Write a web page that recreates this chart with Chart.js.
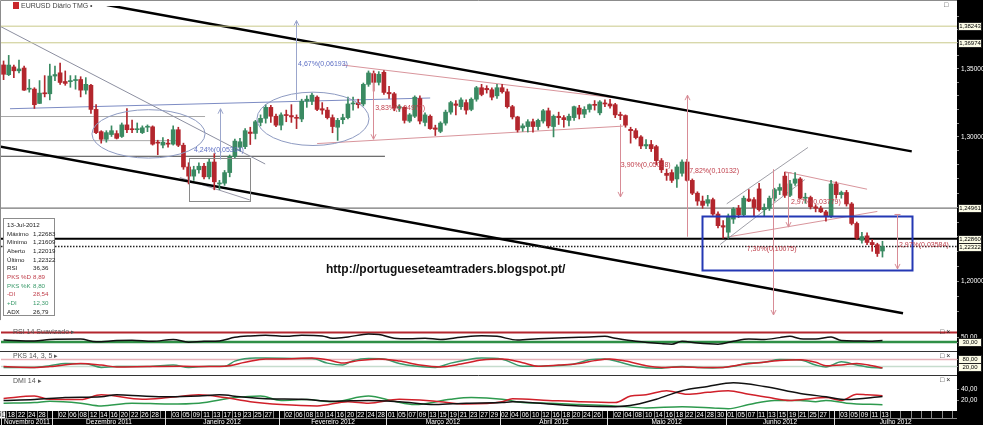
<!DOCTYPE html>
<html>
<head>
<meta charset="utf-8">
<title>EURUSD Diário TMG</title>
<script src="https://cdn.jsdelivr.net/npm/chart.js@4.4.1/dist/chart.umd.min.js"></script>
<style>
  html, body { margin: 0; padding: 0; }
  body { position: relative; width: 983px; height: 425px; overflow: hidden; background: #fff; font-family: "Liberation Sans", Arial, sans-serif; }
  canvas { position: absolute; left: 0; }
  .t { position: absolute; white-space: nowrap; font-size: 7px; line-height: 8px; color: #555; }
  #info { position: absolute; left: 3px; top: 218px; width: 52px; height: 98px; box-sizing: border-box; border: 1px solid #8c8c8c; background: #fff; }
  #info .t { font-size: 6.2px; }
  #url { position: absolute; left: 326px; top: 262px; font-size: 12px; font-weight: bold; color: #111; white-space: nowrap; }
</style>
</head>
<body>
<canvas id="priceChart" width="983" height="326" style="top:0px"></canvas>
<canvas id="rsiChart" width="983" height="26" style="top:325px"></canvas>
<canvas id="pksChart" width="983" height="24" style="top:351px"></canvas>
<canvas id="dmiChart" width="983" height="50" style="top:375px"></canvas>

<div style="position:absolute;left:13px;top:2px;width:6px;height:7px;background:#c8262b"></div>
<div class="t" style="left:21px;top:2px;color:#444">EURUSD Diário TMG •</div>
<div class="t" style="left:944px;top:1px;color:#333">□</div>
<div class="t" style="left:13px;top:328px">RSI 14 Suavizado ▸</div>
<div class="t" style="left:940px;top:328px;color:#222">□ ×</div>
<div class="t" style="left:13px;top:352px">PKS 14, 3, 5 ▸</div>
<div class="t" style="left:940px;top:352px;color:#222">□ ×</div>
<div class="t" style="left:13px;top:377px">DMI 14 ▸</div>
<div class="t" style="left:940px;top:376px;color:#222">□ ×</div>
<div id="info"></div>
<div id="url">http://portugueseteamtraders.blogspot.pt/</div>

<script>
// ---- calendar (trading days shown on the time axis) ----
const monthNames = ['Novembro 2011', 'Dezembro 2011', 'Janeiro 2012', 'Fevereiro 2012', 'Março 2012',
  'Abril 2012', 'Maio 2012', 'Junho 2012', 'Julho 2012'];
const monthDays = [
  [17, 18, 21, 22, 23, 24, 25, 28, 29, 30],
  [1, 2, 5, 6, 7, 8, 9, 12, 13, 14, 15, 16, 19, 20, 21, 22, 23, 26, 27, 28, 29, 30],
  [2, 3, 4, 5, 6, 9, 10, 11, 12, 13, 16, 17, 18, 19, 20, 23, 24, 25, 26, 27, 30, 31],
  [1, 2, 3, 6, 7, 8, 9, 10, 13, 14, 15, 16, 17, 20, 21, 22, 23, 24, 27, 28, 29],
  [1, 2, 5, 6, 7, 8, 9, 12, 13, 14, 15, 16, 19, 20, 21, 22, 23, 26, 27, 28, 29, 30],
  [2, 3, 4, 5, 6, 9, 10, 11, 12, 13, 16, 17, 18, 19, 20, 23, 24, 25, 26, 27, 30],
  [1, 2, 3, 4, 7, 8, 9, 10, 11, 14, 15, 16, 17, 18, 21, 22, 23, 24, 25, 28, 29, 30, 31],
  [1, 4, 5, 6, 7, 8, 11, 12, 13, 14, 15, 18, 19, 20, 21, 22, 25, 26, 27, 28, 29],
  [2, 3, 4, 5, 6, 9, 10, 11, 12, 13]
];
// empty slots to the right of the last candle
const futureDays = [16, 17, 18, 19, 20, 23, 24, 25, 26, 27, 30, 31, 1, 2];

// ---- EURUSD daily candles, 17-Nov-2011 .. 13-Jul-2012 ----
const openP = [
  1.3530, 1.3457, 1.3515, 1.3486, 1.3507, 1.3349, 1.3350, 1.3244, 1.3322, 1.3315,
  1.3447, 1.3471, 1.3406, 1.3405, 1.3413, 1.3421, 1.3342, 1.3378, 1.3200, 1.3038, 1.2983, 1.3017, 1.3024, 1.3003, 1.3087, 1.3059, 1.3052, 1.3031, 1.3070, 1.3073, 1.2962, 1.2941,
  1.2955, 1.2948, 1.3052, 1.2940, 1.2785, 1.2720, 1.2765, 1.2790, 1.2715, 1.2820, 1.2665, 1.2670, 1.2745, 1.2860, 1.2925, 1.2930, 1.3035, 1.3025, 1.3105, 1.3135, 1.3215, 1.3150,
  1.3085, 1.3160, 1.3155, 1.3140, 1.3130, 1.3260, 1.3260, 1.3290, 1.3205, 1.3195, 1.3140, 1.3070, 1.3125, 1.3140, 1.3240, 1.3250, 1.3240, 1.3385, 1.3465, 1.3400, 1.3475,
  1.3325, 1.3315, 1.3210, 1.3215, 1.3115, 1.3150, 1.3280, 1.3105, 1.3150, 1.3065, 1.3040, 1.3100, 1.3180, 1.3240, 1.3220, 1.3250, 1.3200, 1.3275, 1.3360, 1.3355, 1.3345, 1.3300,
  1.3360, 1.3330, 1.3220, 1.3145, 1.3065, 1.3075, 1.3110, 1.3075, 1.3115, 1.3190, 1.3075, 1.3150, 1.3140, 1.3120, 1.3140, 1.3210, 1.3165, 1.3200, 1.3235, 1.3175, 1.3245,
  1.3240, 1.3235, 1.3160, 1.3155, 1.3055, 1.3045, 1.3000, 1.2935, 1.2945, 1.2930, 1.2830, 1.2740, 1.2745, 1.2700, 1.2740, 1.2820, 1.2690, 1.2600, 1.2545, 1.2530, 1.2555, 1.2455, 1.2375,
  1.2330, 1.2420, 1.2495, 1.2450, 1.2560, 1.2555, 1.2630, 1.2485, 1.2495, 1.2565, 1.2620, 1.2720, 1.2585, 1.2670, 1.2700, 1.2565, 1.2570, 1.2505, 1.2495, 1.2470, 1.2440,
  1.2665, 1.2590, 1.2605, 1.2525, 1.2390, 1.2275, 1.2305, 1.2260, 1.2245, 1.22019
];
const highP = [
  1.3560, 1.3602, 1.3529, 1.3566, 1.3522, 1.3421, 1.3360, 1.3413, 1.3450, 1.3536,
  1.3522, 1.3544, 1.3485, 1.3450, 1.3450, 1.3442, 1.3435, 1.3385, 1.3235, 1.3045, 1.3045, 1.3080, 1.3045, 1.3101, 1.3206, 1.3122, 1.3101, 1.3080, 1.3087, 1.3080, 1.2976, 1.2996,
  1.2983, 1.3080, 1.3070, 1.2955, 1.2815, 1.2790, 1.2815, 1.2810, 1.2845, 1.2880, 1.2690, 1.2760, 1.2870, 1.2985, 1.2990, 1.3060, 1.3070, 1.3120, 1.3160, 1.3235, 1.3230, 1.3165,
  1.3175, 1.3195, 1.3235, 1.3160, 1.3275, 1.3300, 1.3320, 1.3300, 1.3250, 1.3215, 1.3160, 1.3135, 1.3165, 1.3290, 1.3290, 1.3275, 1.3395, 1.3485, 1.3485, 1.3480, 1.3487,
  1.3370, 1.3325, 1.3235, 1.3220, 1.3170, 1.3300, 1.3300, 1.3175, 1.3160, 1.3085, 1.3110, 1.3195, 1.3260, 1.3265, 1.3285, 1.3270, 1.3285, 1.3370, 1.3385, 1.3375, 1.3360, 1.3385,
  1.3385, 1.3350, 1.3230, 1.3150, 1.3095, 1.3125, 1.3130, 1.3130, 1.3200, 1.3210, 1.3160, 1.3180, 1.3155, 1.3165, 1.3225, 1.3230, 1.3220, 1.3240, 1.3265, 1.3265, 1.3270,
  1.3275, 1.3245, 1.3180, 1.3160, 1.3070, 1.3060, 1.3010, 1.2980, 1.2975, 1.2940, 1.2845, 1.2770, 1.2765, 1.2800, 1.2835, 1.2840, 1.2700, 1.2610, 1.2580, 1.2585, 1.2565, 1.2470, 1.2410,
  1.2455, 1.2500, 1.2515, 1.2580, 1.2625, 1.2570, 1.2670, 1.2525, 1.2580, 1.2635, 1.2665, 1.2748, 1.2690, 1.2745, 1.2710, 1.2600, 1.2580, 1.2520, 1.2510, 1.2480, 1.2690,
  1.2680, 1.2615, 1.2620, 1.2535, 1.2400, 1.2330, 1.2325, 1.2280, 1.2255, 1.22683
];
const lowP = [
  1.3420, 1.3450, 1.3435, 1.3471, 1.3340, 1.3327, 1.3207, 1.3242, 1.3292, 1.3270,
  1.3413, 1.3385, 1.3378, 1.3363, 1.3349, 1.3292, 1.3313, 1.3171, 1.3024, 1.2955, 1.2962, 1.3003, 1.2985, 1.2996, 1.3031, 1.3031, 1.3031, 1.3024, 1.3038, 1.2941, 1.2872, 1.2920,
  1.2927, 1.2941, 1.2930, 1.2768, 1.2665, 1.2690, 1.2740, 1.2700, 1.2700, 1.2624, 1.2625, 1.2655, 1.2715, 1.2850, 1.2900, 1.2915, 1.2945, 1.2985, 1.3080, 1.3100, 1.3105, 1.3075,
  1.3050, 1.3110, 1.3105, 1.3060, 1.3110, 1.3215, 1.3235, 1.3190, 1.3165, 1.3130, 1.3030, 1.2975, 1.3095, 1.3130, 1.3195, 1.3210, 1.3225, 1.3370, 1.3335, 1.3380, 1.3310,
  1.3280, 1.3190, 1.3185, 1.3100, 1.3105, 1.3140, 1.3095, 1.3080, 1.3055, 1.3010, 1.3030, 1.3085, 1.3165, 1.3160, 1.3200, 1.3165, 1.3190, 1.3260, 1.3300, 1.3320, 1.3270, 1.3280,
  1.3320, 1.3210, 1.3130, 1.3035, 1.3040, 1.3035, 1.3035, 1.3050, 1.3100, 1.3065, 1.3000, 1.3090, 1.3070, 1.3080, 1.3120, 1.3130, 1.3140, 1.3180, 1.3195, 1.3160, 1.3220,
  1.3210, 1.3140, 1.3125, 1.3070, 1.2955, 1.2985, 1.2915, 1.2915, 1.2895, 1.2800, 1.2745, 1.2690, 1.2675, 1.2640, 1.2720, 1.2685, 1.2590, 1.2515, 1.2495, 1.2510, 1.2445, 1.2360, 1.2290,
  1.2288, 1.2390, 1.2430, 1.2440, 1.2540, 1.2440, 1.2475, 1.2440, 1.2480, 1.2545, 1.2590, 1.2570, 1.2575, 1.2655, 1.2560, 1.2530, 1.2490, 1.2470, 1.2465, 1.2405, 1.2430,
  1.2565, 1.2565, 1.2510, 1.2380, 1.2280, 1.2255, 1.2245, 1.2200, 1.2165, 1.21609
];
const closeP = [
  1.3460, 1.3529, 1.3486, 1.3500, 1.3342, 1.3356, 1.3235, 1.3320, 1.3315, 1.3447,
  1.3458, 1.3399, 1.3392, 1.3413, 1.3421, 1.3342, 1.3385, 1.3200, 1.3031, 1.2983, 1.3031, 1.3045, 1.2990, 1.3087, 1.3052, 1.3052, 1.3059, 1.3066, 1.3073, 1.2948, 1.2955, 1.2962,
  1.2948, 1.3052, 1.2940, 1.2785, 1.2720, 1.2765, 1.2790, 1.2715, 1.2820, 1.2680, 1.2670, 1.2745, 1.2860, 1.2970, 1.2965, 1.3045, 1.3025, 1.3110, 1.3135, 1.3215, 1.3150, 1.3085,
  1.3160, 1.3155, 1.3145, 1.3135, 1.3260, 1.3275, 1.3305, 1.3200, 1.3195, 1.3140, 1.3075, 1.3120, 1.3140, 1.3240, 1.3245, 1.3235, 1.3385, 1.3470, 1.3400, 1.3460, 1.3325,
  1.3315, 1.3210, 1.3220, 1.3120, 1.3160, 1.3290, 1.3115, 1.3160, 1.3060, 1.3055, 1.3100, 1.3180, 1.3250, 1.3230, 1.3270, 1.3195, 1.3275, 1.3360, 1.3310, 1.3345, 1.3290, 1.3360,
  1.3330, 1.3220, 1.3145, 1.3050, 1.3080, 1.3110, 1.3075, 1.3120, 1.3190, 1.3080, 1.3150, 1.3140, 1.3125, 1.3150, 1.3220, 1.3165, 1.3200, 1.3235, 1.3230, 1.3255, 1.3240,
  1.3225, 1.3160, 1.3155, 1.3085, 1.3045, 1.2995, 1.2935, 1.2945, 1.2915, 1.2830, 1.2765, 1.2725, 1.2690, 1.2785, 1.2820, 1.2690, 1.2600, 1.2545, 1.2515, 1.2555, 1.2455, 1.2375, 1.2365,
  1.2440, 1.2490, 1.2450, 1.2565, 1.2545, 1.2500, 1.2485, 1.2500, 1.2565, 1.2625, 1.2640, 1.2585, 1.2665, 1.2700, 1.2565, 1.2570, 1.2505, 1.2495, 1.2470, 1.2440, 1.2665,
  1.2590, 1.2605, 1.2525, 1.2390, 1.2290, 1.2300, 1.2260, 1.2245, 1.2185, 1.22322
];

// ---- indicators (day index, value) ----
const rsiDay = [0, 6, 9, 15, 18, 22, 25, 29, 33, 36, 39, 42, 45, 48, 51, 55, 58, 62, 64, 67, 71, 73, 76, 79, 82, 85, 89, 93, 96, 100,
  104, 109, 112, 117, 119, 123, 128, 130, 132, 135, 139, 142, 145, 148, 151, 153, 155, 158, 161, 163, 166, 169, 171];
const rsiVal = [38.7, 35, 41, 42.6, 31, 36.4, 38, 33.4, 41, 29.5, 33.4, 35, 50, 56, 59, 54, 59, 56, 46, 51.4, 63.8, 61.5, 46.5, 44, 46.5, 41, 50, 56.3, 54, 38.7,
  44, 48.7, 50, 54, 46.4, 33.4, 23.6, 21.3, 33.4, 25.8, 21.3, 33.4, 42.6, 41, 48.7, 54, 44, 42.6, 51.7, 36.4, 35, 33.4, 36.36];
const pksKDay = [0, 6, 9, 12, 16, 19, 22, 28, 33, 36, 40, 43, 45, 49, 51, 58, 60, 63, 66, 68, 71, 74, 77, 80, 84, 87, 90, 93, 97, 101,
  104, 107, 111, 114, 117, 120, 123, 127, 132, 135, 138, 142, 145, 148, 151, 155, 158, 160, 163, 166, 168, 171];
const pksKVal = [12.8, 12.8, 27, 46, 44, 12.8, 20, 20, 33, 13, 22, 22, 66, 91, 91, 88, 88, 49, 33, 70, 88, 84, 46, 24, 13, 49, 75, 91, 82, 23,
  23, 27, 41, 77, 84, 56, 23, 6, 20, 13, 9, 23, 49, 56, 79, 75, 33, 17, 60, 33, 17, 8.8];
const pksDDay = [0, 6, 9, 15, 19, 22, 28, 35, 38, 43, 47, 51, 54, 60, 63, 66, 69, 73, 77, 81, 85, 89, 93, 97, 101, 104, 108, 112, 115, 118,
  121, 125, 128, 132, 136, 140, 143, 147, 151, 155, 158, 160, 163, 166, 169, 171];
const pksDVal = [20, 13, 20, 46, 33, 17, 20, 23, 20, 23, 56, 84, 84, 91, 77, 49, 70, 84, 66, 33, 17, 41, 75, 84, 52, 23, 33, 46, 70, 84,
  66, 27, 13, 17, 13, 13, 33, 52, 70, 77, 56, 27, 33, 46, 27, 8.89];
const adxDay = [0, 6, 12, 19, 22, 27, 32, 38, 42, 46, 51, 58, 64, 71, 77, 84, 90, 97, 99, 106, 112, 119, 123, 127, 132, 137, 142, 148, 155, 160, 164, 171];
const adxVal = [20, 21.5, 25, 26.5, 30, 27.8, 26.5, 27.8, 30, 26.5, 23, 22, 18.5, 20, 17.5, 12.5, 15, 16, 17.5, 13.5, 10, 8.6, 12.5, 22, 37.5, 45, 51.5, 45, 32.5, 26.5, 21.5, 26.79];
const diMinusDay = [0, 6, 9, 15, 19, 27, 32, 38, 43, 48, 54, 61, 67, 71, 77, 84, 90, 97, 99, 106, 112, 119, 122, 125, 129, 133, 137, 141, 145, 149,
  153, 156, 160, 163, 166, 168, 171];
const diMinusVal = [23.5, 27.8, 22, 21.5, 30, 22, 25, 30, 25, 17.5, 12.5, 10, 17.5, 15, 22, 18.5, 13.5, 17.5, 23, 20, 17.5, 16, 27.8, 30, 37.5, 31, 34.5, 37.5, 31, 25,
  20, 22, 25, 20, 31, 30, 28.54];
const diPlusDay = [0, 6, 9, 15, 19, 25, 32, 38, 45, 50, 54, 59, 64, 71, 76, 80, 87, 91, 97, 101, 106, 112, 119, 125, 132, 138, 141, 145, 150, 155, 158, 160, 164, 171];
const diPlusVal = [15, 16, 18.5, 15, 10, 15, 13.5, 15, 25, 27.8, 20, 21.5, 17.5, 27.8, 18.5, 12.5, 22, 25, 22, 16, 15, 12.5, 10, 6.3, 8.6, 6.3, 4.9, 12.5, 20, 20, 17.5, 20, 15, 12.3];

// ---- price axis ----
const priceTicks = [1.18, 1.19, 1.20, 1.21, 1.22, 1.23, 1.24, 1.25, 1.26, 1.27, 1.28, 1.29, 1.30, 1.31, 1.32, 1.33, 1.34, 1.35, 1.36, 1.37, 1.38, 1.39];
const priceTickLabels = [1.20, 1.30, 1.35];
const levelPrices = [1.38243, 1.36974, 1.24961, 1.22860, 1.22322];

// ---- drawn studies: [day index, price] ----
const channelTop = [[20.1, 1.3988], [176.7, 1.2896]];
const channelBottom = [[-0.7, 1.2931], [175.0, 1.1787]];
const fallLine = [[-0.7, 1.3824], [50.9, 1.2806]];
const boxSupport = [[34.3, 1.2710], [47.9, 1.2553]];
const resistance = [[1.25, 1.3205], [83.0, 1.3284]];
const shelf1 = [[-0.7, 1.3148], [39.2, 1.3148]];
const shelf2 = [[-0.7, 1.2973], [33.9, 1.2973]];
const shelf3 = [[-0.7, 1.2861], [74.2, 1.2861]];
const triangleTop = [[66.0, 1.3529], [118.4, 1.3287]];
const triangleBottom = [[61.0, 1.2952], [120.5, 1.3078]];
const wedgeTop = [[140.7, 1.2526], [156.5, 1.2924]];
const wedgeBottom = [[139.4, 1.2246], [155.9, 1.2696]];
const flagTop = [[152.0, 1.2751], [168.0, 1.2628]];
const flagBottom = [[140.0, 1.2292], [170.0, 1.2473]];

const ellipseDays = [[17.2, 39.2], [49.3, 71.1]];
const ellipsePrices = [[1.3198, 1.2848], [1.3327, 1.2938]];
const boxDays = [[36.1, 47.9], [135.9, 176.7]];
const boxPrices = [[1.2848, 1.2547], [1.2439, 1.2070]];

const measureDay = [42.1, 56.9, 71.9, 119.9, 132.9, 149.7, 152.6, 173.8];
const measureFrom = [1.2838, 1.3269, 1.3471, 1.3092, 1.2299, 1.2769, 1.2744, 1.2452];
const measureTo = [1.3205, 1.3868, 1.2983, 1.2574, 1.3305, 1.1776, 1.2365, 1.2081];
const measureText = ['4,24%(0,05304)', '4,67%(0,06193)', '3,83%(0,04977)', '3,90%(0,05098)',
  '7,82%(0,10132)', '7,30%(0,10075)', '2,97%(0,03779)', '2,97%(0,03584)'];
const measureTextDay = [37.05, 57.3, 72.3, 120.1, 133.4, 144.6, 153.2, 174.2];
const measureTextPrice = [1.2903, 1.3536, 1.3212, 1.2799, 1.2758, 1.2213, 1.2541, 1.2240];

// ---- build axis labels ----
const dayLabels = [];
const dayMonth = [];
monthDays.forEach((days, m) => days.forEach(d => { dayLabels.push(String(d).padStart(2, '0')); dayMonth.push(m); }));
futureDays.forEach(() => { dayLabels.push(''); dayMonth.push(monthNames.length - 1); });
const N = dayLabels.length;
const monthStart = monthNames.map((_, m) => dayMonth.indexOf(m));

const fmt = (v, d) => v.toFixed(d).replace('.', ',');
const FONT = '"Liberation Sans", Arial, sans-serif';
const UP = '#3a8a62', DOWN = '#b3262d';
const candleColors = closeP.map((c, i) => (c >= openP[i] ? UP : DOWN));

// white plot, black value strip, boxed values on the strip
const frame = {
  id: 'frame',
  beforeDraw(chart) {
    const { ctx, chartArea: a } = chart;
    ctx.save();
    ctx.fillStyle = '#fff';
    ctx.fillRect(0, 0, chart.width, chart.height);
    ctx.fillStyle = '#000';
    ctx.fillRect(a.right, 0, chart.width - a.right, chart.height);
    ctx.restore();
  },
  afterDraw(chart, args, opts) {
    const { ctx, chartArea: a } = chart;
    const ys = chart.scales.y;
    ctx.save();
    if (opts.topLine) {
      ctx.strokeStyle = '#333';
      ctx.lineWidth = 1;
      ctx.beginPath(); ctx.moveTo(0, 0.5); ctx.lineTo(a.right, 0.5); ctx.stroke();
    }
    ctx.font = '6px ' + FONT;
    ctx.textAlign = 'center';
    ctx.textBaseline = 'middle';
    (opts.boxes || []).forEach(v => {
      const y = Math.round(ys.getPixelForValue(v));
      ctx.fillStyle = '#fbfbe6';
      ctx.fillRect(a.right + 1.5, y - 3.5, 23, 8);
      ctx.strokeStyle = '#222';
      ctx.lineWidth = 1;
      ctx.strokeRect(a.right + 1.5, y - 3.5, 23, 8);
      ctx.fillStyle = '#000';
      ctx.fillText(fmt(v, opts.digits), a.right + 13, y + 0.5);
    });
    ctx.restore();
  }
};

const priceMarks = {
  id: 'priceMarks',
  afterDatasetsDraw(chart) {
    const { ctx, chartArea: a, scales } = chart;
    const X = v => scales.xl.getPixelForValue(v);
    const Y = v => scales.y.getPixelForValue(v);
    ctx.save();
    ctx.beginPath();
    ctx.rect(a.left, a.top, a.right - a.left, a.bottom - a.top);
    ctx.clip();
    ctx.lineWidth = 1;
    ellipseDays.forEach((d, i) => {
      const x0 = X(d[0]), x1 = X(d[1]), y0 = Y(ellipsePrices[i][0]), y1 = Y(ellipsePrices[i][1]);
      ctx.strokeStyle = '#8e9bc2';
      ctx.beginPath();
      ctx.ellipse((x0 + x1) / 2, (y0 + y1) / 2, (x1 - x0) / 2, (y1 - y0) / 2, 0, 0, Math.PI * 2);
      ctx.stroke();
    });
    boxDays.forEach((d, i) => {
      const x0 = X(d[0]), x1 = X(d[1]), y0 = Y(boxPrices[i][0]), y1 = Y(boxPrices[i][1]);
      ctx.strokeStyle = i === 0 ? '#8a8a8a' : '#2438b4';
      ctx.lineWidth = i === 0 ? 1 : 2;
      ctx.strokeRect(Math.round(x0) + 0.5, Math.round(y0) + 0.5, Math.round(x1 - x0), Math.round(y1 - y0));
    });
    ctx.font = '7px ' + FONT;
    ctx.textBaseline = 'middle';
    ctx.textAlign = 'left';
    measureDay.forEach((d, i) => {
      const x = Math.round(X(d)) + 0.5, y0 = Y(measureFrom[i]), y1 = Y(measureTo[i]);
      ctx.strokeStyle = i < 2 ? '#9ba6cc' : '#d88c96';
      ctx.lineWidth = 1;
      ctx.beginPath(); ctx.moveTo(x, y0); ctx.lineTo(x, y1); ctx.stroke();
      const dir = y1 < y0 ? 1 : -1;
      ctx.beginPath(); ctx.moveTo(x - 2.5, y1 + dir * 5); ctx.lineTo(x, y1); ctx.lineTo(x + 2.5, y1 + dir * 5); ctx.stroke();
      if (i >= 6) { ctx.beginPath(); ctx.moveTo(x - 3, y0); ctx.lineTo(x + 3, y0); ctx.stroke(); }
      ctx.fillStyle = i < 2 ? '#5d6fc4' : '#c0404c';
      ctx.fillText(measureText[i], X(measureTextDay[i]), Y(measureTextPrice[i]));
    });
    ctx.restore();
  },
  afterDraw(chart) {
    const { ctx, chartArea: a } = chart;
    ctx.save();
    ctx.strokeStyle = '#8c8c8c';
    ctx.lineWidth = 1;
    ctx.beginPath();
    ctx.moveTo(0.5, a.bottom); ctx.lineTo(0.5, 0.5); ctx.lineTo(a.right, 0.5);
    ctx.stroke();
    ctx.restore();
  }
};

const seg = (pts, color, width, dash) => ({
  type: 'line', xAxisID: 'xl', yAxisID: 'y', order: 5,
  data: pts.map(p => ({ x: p[0], y: p[1] })),
  borderColor: color, borderWidth: width, borderDash: dash || [], pointRadius: 0, fill: false
});
const levelColors = ['#c9c98a', '#c9c98a', '#555', '#000', '#222'];
const levelWidths = [1, 1, 1, 2, 1.5];
const levelLines = levelPrices.map((v, i) =>
  seg([[-0.5, v], [N - 0.5, v]], levelColors[i], levelWidths[i], i === 4 ? [1.5, 1.5] : []));

new Chart(document.getElementById('priceChart'), {
  type: 'bar',
  data: {
    labels: dayLabels,
    datasets: [
      { data: openP.map((o, i) => [o, closeP[i]]), backgroundColor: candleColors, barThickness: 4, minBarLength: 1, grouped: false, order: 0 },
      { data: lowP.map((l, i) => [l, highP[i]]), backgroundColor: candleColors, barThickness: 1, grouped: false, order: 1 },
      ...levelLines,
      seg(channelTop, '#000', 2.5),
      seg(channelBottom, '#000', 2.5),
      seg(fallLine, '#8c8fa0', 1),
      seg(boxSupport, '#9a9aaa', 1),
      seg(resistance, '#7d8cc4', 1),
      seg(shelf1, '#a8a8a8', 1),
      seg(shelf2, '#a8a8a8', 1),
      seg(shelf3, '#444', 1),
      seg(triangleTop, '#d9959c', 1),
      seg(triangleBottom, '#d9959c', 1),
      seg(wedgeTop, '#a0a0a8', 1),
      seg(wedgeBottom, '#a0a0a8', 1),
      seg(flagTop, '#d9959c', 1),
      seg(flagBottom, '#d9959c', 1)
    ]
  },
  options: {
    responsive: false, animation: false, devicePixelRatio: 1, events: [],
    layout: { padding: { left: 1, top: 1, right: 0, bottom: 1 } },
    plugins: { legend: { display: false }, tooltip: { enabled: false }, frame: { boxes: levelPrices, digits: 5 } },
    scales: {
      x: { display: false, offset: true, grid: { display: false } },
      xl: { type: 'linear', display: false, offset: false, min: -0.5, max: N - 0.5, grid: { offset: false } },
      y: {
        type: 'logarithmic', position: 'right', min: 1.17427, max: 1.39809, bounds: 'data',
        afterFit: s => { s.width = 26; },
        afterBuildTicks: s => { s.ticks = priceTicks.map(v => ({ value: v })); },
        grid: { drawOnChartArea: false, tickLength: 2, color: '#8a8a8a' },
        border: { display: false },
        ticks: {
          color: '#fff', font: { size: 6.5, family: FONT }, padding: 2, autoSkip: false, maxRotation: 0,
          callback: v => (priceTickLabels.some(t => Math.abs(t - v) < 1e-6) ? fmt(v, 5) : '')
        }
      }
    }
  },
  plugins: [frame, priceMarks]
});

// ---- indicator panels ----
const series = (days, vals, color, width, order) => ({
  data: days.map((d, i) => ({ x: d, y: vals[i] })),
  borderColor: color, borderWidth: width, pointRadius: 0, cubicInterpolationMode: 'monotone', order: order
});
const level = (v, color, width) => ({
  data: [{ x: -0.5, y: v }, { x: N - 0.5, y: v }], borderColor: color, borderWidth: width, pointRadius: 0, order: 9
});

const dateAxis = {
  id: 'dateAxis',
  afterDraw(chart) {
    const { ctx, chartArea: a, scales } = chart;
    const X = v => scales.x.getPixelForValue(v);
    const top = a.bottom, mid = top + 7, bot = chart.height;
    ctx.save();
    ctx.fillStyle = '#000';
    ctx.fillRect(0, top, chart.width, bot - top);
    ctx.font = '6.5px ' + FONT;
    ctx.textAlign = 'center';
    ctx.textBaseline = 'middle';
    ctx.lineWidth = 1;
    // first, partly hidden box
    ctx.fillStyle = '#fff';
    ctx.fillRect(0, top + 0.5, X(0.5) - 1, 6.5);
    ctx.fillStyle = '#000';
    ctx.fillText('011', (X(0.5) - 1) / 2, top + 4);
    for (let i = 1; i < N; i += 2) {
      const x0 = Math.round(X(i - 0.5)) + 0.5;
      ctx.strokeStyle = '#8a8a8a';
      ctx.beginPath(); ctx.moveTo(x0, top); ctx.lineTo(x0, mid); ctx.stroke();
      if (dayLabels[i] && dayMonth[i + 1] === dayMonth[i]) {
        ctx.fillStyle = '#fff';
        ctx.fillText(dayLabels[i], X(i + 0.5), top + 4);
      }
    }
    ctx.strokeStyle = '#8a8a8a';
    ctx.beginPath(); ctx.moveTo(0, mid + 0.5); ctx.lineTo(a.right, mid + 0.5); ctx.stroke();
    monthStart.forEach((s, m) => {
      const x0 = Math.round(X(s - 0.5)) + 0.5;
      const x1 = m + 1 < monthStart.length ? X(monthStart[m + 1] - 0.5) : a.right;
      ctx.strokeStyle = '#ddd';
      ctx.beginPath(); ctx.moveTo(x0, top); ctx.lineTo(x0, bot); ctx.stroke();
      ctx.fillStyle = '#fff';
      ctx.fillText(monthNames[m], (Math.max(x0, 0) + x1) / 2, mid + 3.8);
    });
    ctx.restore();
  }
};

function panel(id, datasets, yMin, yMax, tickValues, boxes, topLine, padBottom, extra) {
  return new Chart(document.getElementById(id), {
    type: 'line',
    data: { datasets },
    options: {
      responsive: false, animation: false, devicePixelRatio: 1, events: [],
      layout: { padding: { left: 1, top: 0, right: 0, bottom: padBottom } },
      plugins: { legend: { display: false }, tooltip: { enabled: false }, frame: { boxes, digits: 2, topLine } },
      scales: {
        x: { type: 'linear', display: false, offset: false, min: -0.5, max: N - 0.5 },
        y: {
          position: 'right', min: yMin, max: yMax,
          afterFit: s => { s.width = 26; },
          afterBuildTicks: s => { s.ticks = tickValues.map(v => ({ value: v })); },
          grid: { drawOnChartArea: false, tickLength: 2, color: '#8a8a8a' },
          border: { display: false },
          ticks: { color: '#fff', font: { size: 6.5, family: FONT }, padding: 2, autoSkip: false, callback: v => fmt(v, 2) }
        }
      }
    },
    plugins: [frame].concat(extra || [])
  });
}

panel('rsiChart', [
  level(70, '#b3262e', 2),
  level(30, '#2f8f46', 2.5),
  series(rsiDay, rsiVal, '#111', 1.5, 1)
], 17.43, 76.86, [30, 50], [30], false, 0);

panel('pksChart', [
  level(80, '#e6b2b8', 1.5),
  level(20, '#c6dccd', 1.5),
  series(pksKDay, pksKVal, '#3a9a6a', 1.5, 2),
  series(pksDDay, pksDVal, '#d0202a', 1.5, 1)
], -1.28, 101.28, [20, 80], [80, 20], true, 0);

panel('dmiChart', [
  series(adxDay, adxVal, '#111', 1.5, 1),
  series(diMinusDay, diMinusVal, '#d0202a', 1.5, 2),
  series(diPlusDay, diPlusVal, '#2e9a4e', 1.5, 3)
], 0.9, 55.04, [20, 40], [], true, 14, [dateAxis]);

// ---- data window box ----
const last = closeP.length - 1;
const infoRows = [
  ['13-Jul-2012', '', '#222'],
  ['Máximo', fmt(highP[last], 5), '#222'],
  ['Mínimo', fmt(lowP[last], 5), '#222'],
  ['Aberto', fmt(openP[last], 5), '#222'],
  ['Último', fmt(closeP[last], 5), '#222'],
  ['RSI', fmt(rsiVal[rsiVal.length - 1], 2), '#222'],
  ['PKS %D', fmt(pksDVal[pksDVal.length - 1], 2), '#c0404c'],
  ['PKS %K', fmt(pksKVal[pksKVal.length - 1], 2), '#3a9a6a'],
  ['-DI', fmt(diMinusVal[diMinusVal.length - 1], 2), '#c0404c'],
  ['+DI', fmt(diPlusVal[diPlusVal.length - 1], 2), '#3a9a6a'],
  ['ADX', fmt(adxVal[adxVal.length - 1], 2), '#222']
];
const info = document.getElementById('info');
infoRows.forEach((r, i) => {
  const top = 2 + i * 8.65;
  info.insertAdjacentHTML('beforeend',
    '<div class="t" style="left:3px;top:' + top + 'px;color:' + r[2] + '">' + r[0] + '</div>' +
    (r[1] ? '<div class="t" style="left:29px;top:' + top + 'px;color:' + r[2] + '">' + r[1] + '</div>' : ''));
});
</script>
</body>
</html>
